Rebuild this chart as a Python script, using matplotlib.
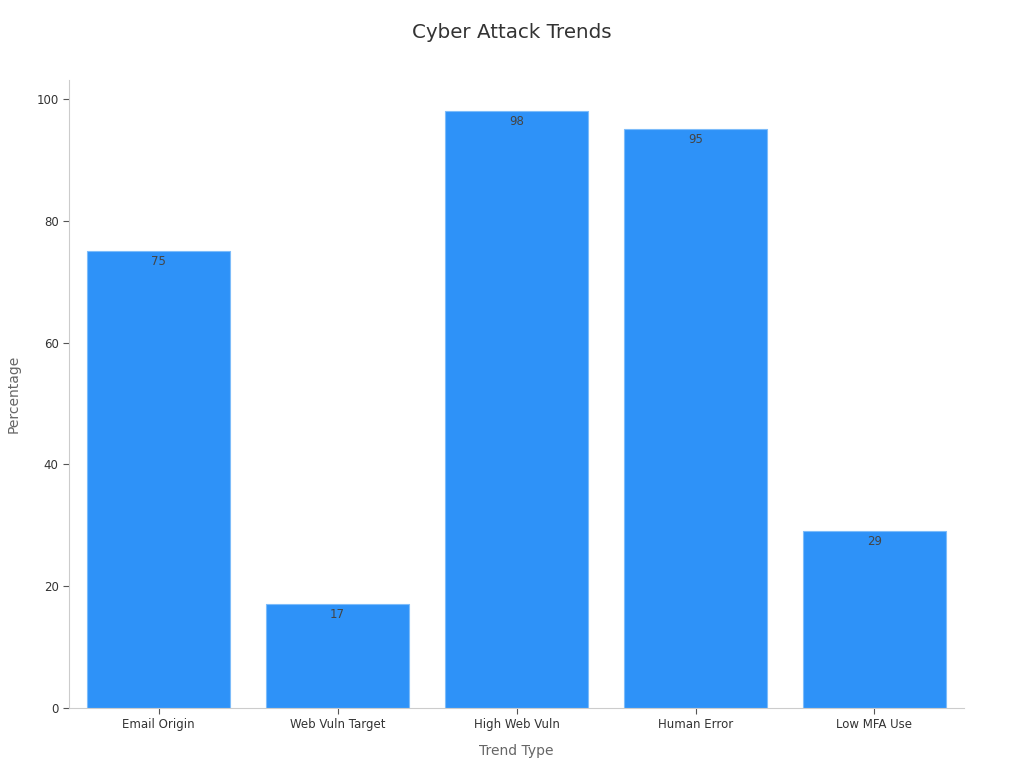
import matplotlib
matplotlib.use("Agg")
import matplotlib.pyplot as plt

# Chart data
categories = ["Email Origin", "Web Vuln Target", "High Web Vuln", "Human Error", "Low MFA Use"]
values = [75, 17, 98, 95, 29]

bar_color = "#2E92F8"
text_color = "#333333"

fig = plt.figure(figsize=(10.24, 7.68), dpi=100)
ax = fig.add_axes([0.0674, 0.0781, 0.874, 0.8177])

x = range(len(categories))
bars = ax.bar(x, values, width=0.8, color=bar_color, edgecolor="#7DBCFA", linewidth=0.8)

# value labels just inside the top of each bar
for xi, v in zip(x, values):
    ax.text(xi, v - 0.6, str(v), ha="center", va="top", fontsize=8.5, color="#444444")

ax.set_xlim(-0.5, 4.5)
ax.set_ylim(0, 103.1)
ax.set_yticks([0, 20, 40, 60, 80, 100])
ax.set_xticks(list(x))
ax.set_xticklabels(categories)

for s in ["top", "right"]:
    ax.spines[s].set_visible(False)
for s in ["left", "bottom"]:
    ax.spines[s].set_color("#CCCCCC")
    ax.spines[s].set_linewidth(0.8)

ax.tick_params(axis="both", labelsize=8.5, colors=text_color, length=4, width=0.8)
ax.tick_params(axis="both", color="#555555")

ax.set_xlabel("Trend Type", fontsize=10, color="#666666", labelpad=9)
ax.set_ylabel("Percentage", fontsize=10, color="#666666", labelpad=11)
fig.suptitle("Cyber Attack Trends", fontsize=14.3, color=text_color, y=0.97)

fig.savefig("out.png", dpi=100)
